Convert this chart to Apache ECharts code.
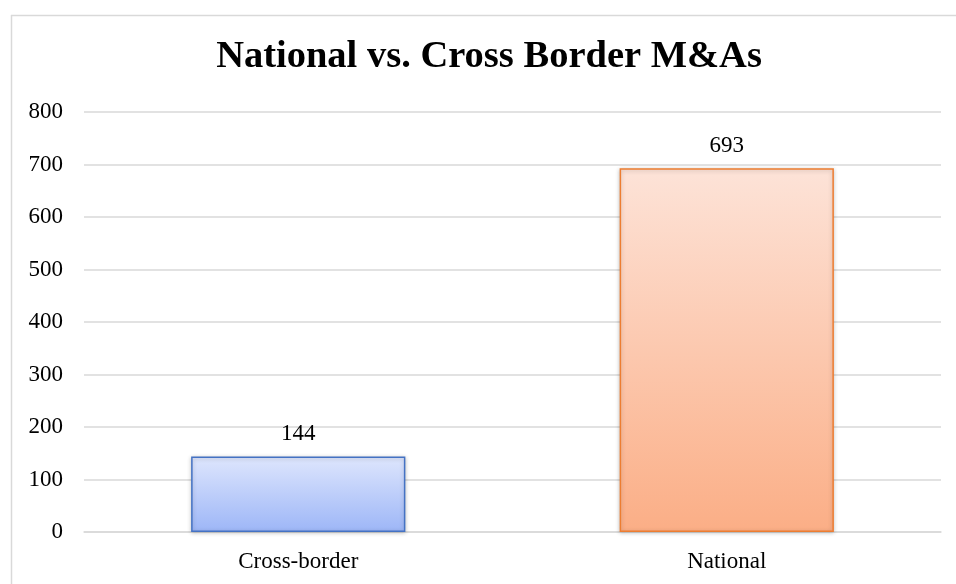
<!DOCTYPE html>
<html>
<head>
<meta charset="utf-8">
<script src="https://cdn.jsdelivr.net/npm/echarts@6/dist/echarts.min.js"></script>
<style>
  html, body { margin: 0; padding: 0; background: #ffffff; }
  #chart { width: 956px; height: 584px; }
</style>
</head>
<body>
<div id="chart"></div>
<script>
// Deal counts by type
const categories = ['Cross-border', 'National'];
const dealCounts = [144, 693];
const yTicks = [0, 100, 200, 300, 400, 500, 600, 700, 800];

// Per-bar fill: light at the top, deeper at the base
const barStyles = [
  { top: '#dee6fd', bottom: '#9db6f7', border: '#4472c4' },
  { top: '#fde3d8', bottom: '#fbae86', border: '#ed7d31' }
];

const chart = echarts.init(document.getElementById('chart'), null, { renderer: 'canvas' });
const serif = '"Liberation Serif", "Times New Roman", serif';

chart.setOption({
  animation: false,
  backgroundColor: '#ffffff',
  graphic: [
    // Frame around the chart area (top and left edges visible)
    { type: 'line', shape: { x1: 11, y1: 15.5, x2: 956, y2: 15.5 }, style: { stroke: '#d9d9d9', lineWidth: 1.5 }, silent: true },
    { type: 'line', shape: { x1: 11.5, y1: 15, x2: 11.5, y2: 584 }, style: { stroke: '#d9d9d9', lineWidth: 1.5 }, silent: true },
    // Chart title, centred on the full chart frame
    {
      type: 'text',
      x: 489,
      y: 57,
      silent: true,
      style: {
        text: 'National vs. Cross Border M&As',
        fontFamily: serif,
        fontWeight: 'bold',
        fontSize: 38.5,
        fill: '#000000',
        align: 'center',
        verticalAlign: 'middle'
      }
    }
  ],
  grid: { left: 84, right: 15, top: 112, bottom: 52, containLabel: false },
  xAxis: {
    type: 'category',
    data: categories,
    axisLine: { show: true, lineStyle: { color: '#d9d9d9', width: 1.5 } },
    axisTick: { show: false },
    axisLabel: { fontFamily: serif, fontSize: 23, color: '#000000', margin: 18 }
  },
  yAxis: {
    type: 'value',
    min: yTicks[0],
    max: yTicks[yTicks.length - 1],
    interval: yTicks[1] - yTicks[0],
    axisLine: { show: false },
    axisTick: { show: false },
    splitLine: { lineStyle: { color: '#d9d9d9', width: 1.5 } },
    axisLabel: { fontFamily: serif, fontSize: 23, color: '#000000', margin: 21 }
  },
  series: [{
    type: 'bar',
    barWidth: '50%',
    data: dealCounts.map((v, i) => ({
      value: v,
      itemStyle: {
        color: new echarts.graphic.LinearGradient(0, 0, 0, 1, [
          { offset: 0, color: barStyles[i].top },
          { offset: 1, color: barStyles[i].bottom }
        ]),
        borderColor: barStyles[i].border,
        borderWidth: 1.5,
        shadowColor: 'rgba(0,0,0,0.22)',
        shadowBlur: 4,
        shadowOffsetX: 0,
        shadowOffsetY: 1
      }
    })),
    label: {
      show: true,
      position: 'top',
      distance: 11,
      fontFamily: serif,
      fontSize: 23,
      color: '#000000'
    }
  }]
});
</script>
</body>
</html>
